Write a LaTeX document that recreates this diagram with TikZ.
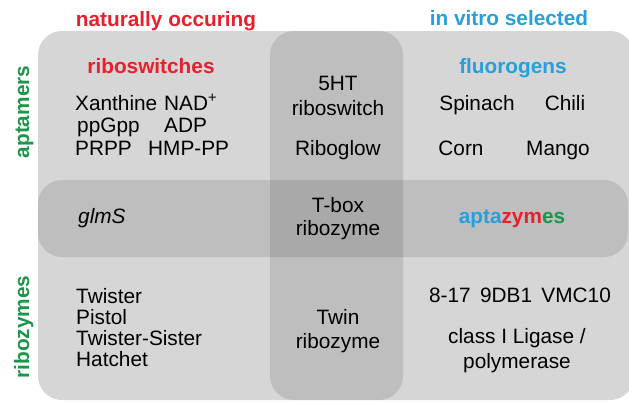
\documentclass[tikz,border=0pt]{standalone}
\usepackage{fontspec}
\setmainfont{Liberation Sans}
\definecolor{natred}{RGB}{232,32,44}
\definecolor{vitroblue}{RGB}{38,160,220}
\definecolor{catgreen}{RGB}{28,150,72}
\definecolor{panelgray}{RGB}{214,214,214}

\begin{document}
\begin{tikzpicture}[x=1pt,y=-1pt,
  lbl/.style={inner sep=0pt, font=\fontsize{20.8}{25}\selectfont},
  head/.style={inner sep=0pt, font=\fontsize{20.8}{25}\selectfont\bfseries},
  band/.style={fill=black, fill opacity=0.11, rounded corners=24pt}]
\useasboundingbox (0,0) rectangle (629,402);

% panels: base field, vertical and horizontal overlap bands
\fill[panelgray, rounded corners=24pt] (38,31) rectangle (634,400);
\fill[band] (270,31) rectangle (403,400);
\fill[band] (38,180) rectangle (628,257);

% column and row headings
\node[head, text=natred, anchor=base] (nat) at (166,26) {naturally occuring};
\node[head, text=vitroblue, anchor=base] (vit) at (509,25) {in vitro selected};
\node[head, text=catgreen, rotate=90, anchor=base] (apt) at (29,112) {aptamers};
\node[head, text=catgreen, rotate=90, anchor=base] (riz) at (29,327) {ribozymes};

% top-left: riboswitches
\node[head, text=natred, anchor=base] (rsw) at (151,73) {riboswitches};
\node[lbl, anchor=base west] (xan) at (75,110) {Xanthine};
\node[lbl, anchor=base west] (nad) at (164,110) {NAD\textsuperscript{+}};
\node[lbl, anchor=base west] (ppg) at (77,132) {ppGpp};
\node[lbl, anchor=base west] (adp) at (164,132) {ADP};
\node[lbl, anchor=base west] (prp) at (75,155) {PRPP};
\node[lbl, anchor=base west] (hmp) at (148,155) {HMP-PP};

% top-middle
\node[lbl, anchor=base] (sht) at (338,90) {5HT};
\node[lbl, anchor=base] (shr) at (338,115) {riboswitch};
\node[lbl, anchor=base] (rgl) at (338,155) {Riboglow};

% top-right: fluorogens
\node[head, text=vitroblue, anchor=base] (flu) at (513,73) {fluorogens};
\node[lbl, anchor=base] (spi) at (477,110) {Spinach};
\node[lbl, anchor=base] (chi) at (565,110) {Chili};
\node[lbl, anchor=base] (cor) at (461,155) {Corn};
\node[lbl, anchor=base] (man) at (558,155) {Mango};

% middle row
\node[lbl, anchor=base west] (glm) at (78,223) {\itshape glmS};
\node[lbl, anchor=base] (tbx) at (338,212) {T-box};
\node[lbl, anchor=base] (tbr) at (338,235) {ribozyme};
\node[head, anchor=base] (atz) at (512,223)
  {\textcolor{vitroblue}{apta}\textcolor{natred}{zym}\textcolor{catgreen}{es}};

% bottom-left
\node[lbl, anchor=base west] (twi) at (76,303) {Twister};
\node[lbl, anchor=base west] (pis) at (76,324) {Pistol};
\node[lbl, anchor=base west] (tws) at (76,345) {Twister-Sister};
\node[lbl, anchor=base west] (hat) at (76,366) {Hatchet};

% bottom-middle
\node[lbl, anchor=base] (twn) at (338,324) {Twin};
\node[lbl, anchor=base] (twr) at (338,348) {ribozyme};

% bottom-right
\node[lbl, anchor=base] (dna) at (520,302) {8-17\hspace{0.45em}9DB1\hspace{0.45em}VMC10};
\node[lbl, anchor=base] (lig) at (517,343) {class I Ligase /};
\node[lbl, anchor=base] (pol) at (517,368) {polymerase};
\end{tikzpicture}
\end{document}
